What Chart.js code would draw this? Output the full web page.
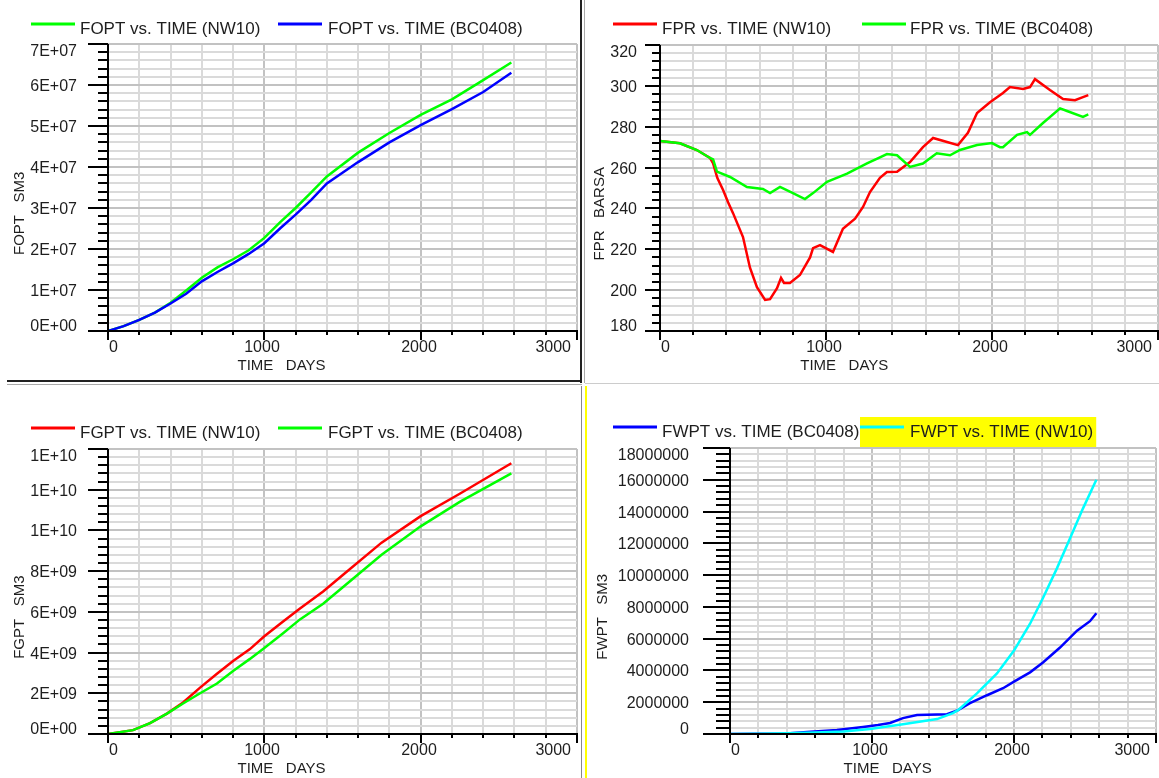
<!DOCTYPE html>
<html>
<head>
<meta charset="utf-8">
<script src="https://cdn.jsdelivr.net/npm/chart.js@4.4.0/dist/chart.umd.min.js"></script>
<style>
  body { margin: 0; background: #fff; width: 1159px; height: 778px; overflow: hidden; position: relative; }
  canvas { position: absolute; }
  .rule { position: absolute; }
</style>
</head>
<body>
<canvas id="foptCanvas" width="580" height="380" style="left:0;top:0"></canvas>
<canvas id="fprCanvas" width="572" height="380" style="left:587px;top:0"></canvas>
<canvas id="fgptCanvas" width="580" height="392" style="left:0;top:386px"></canvas>
<canvas id="fwptCanvas" width="572" height="392" style="left:587px;top:386px"></canvas>

<div class="rule" style="left:580px;top:0;width:2px;height:383px;background:#222"></div>
<div class="rule" style="left:584px;top:0;width:1px;height:383px;background:#aaa"></div>
<div class="rule" style="left:7px;top:380px;width:575px;height:2px;background:#222"></div>
<div class="rule" style="left:7px;top:384px;width:575px;height:1px;background:#aaa"></div>
<div class="rule" style="left:585px;top:383px;width:574px;height:1px;background:#ccc"></div>
<div class="rule" style="left:581px;top:386px;width:1px;height:392px;background:#888"></div>
<div class="rule" style="left:585px;top:386px;width:2px;height:392px;background:#ffff00"></div>

<script>
// ---- Data: TIME (days) and field totals per case ----
const foptDays = [0, 100, 200, 300, 400, 500, 600, 700, 800, 900, 1000, 1100, 1200, 1300, 1400, 1600, 1800, 2000, 2200, 2400, 2580];
const foptNW10 = [0, 1.2e6, 2.7e6, 4.5e6, 6.9e6, 9.9e6, 1.3e7, 1.55e7, 1.75e7, 1.97e7, 2.27e7, 2.65e7, 3.0e7, 3.38e7, 3.77e7, 4.35e7, 4.83e7, 5.27e7, 5.65e7, 6.12e7, 6.55e7];
const foptBC0408 = [0, 1.2e6, 2.7e6, 4.5e6, 6.7e6, 9.1e6, 1.21e7, 1.44e7, 1.65e7, 1.88e7, 2.14e7, 2.5e7, 2.84e7, 3.2e7, 3.6e7, 4.12e7, 4.6e7, 5.02e7, 5.41e7, 5.83e7, 6.3e7];

const fprNW10Days = [0, 120, 222, 301, 320, 345, 380, 410, 440, 500, 542, 584, 633, 663, 705, 729, 747, 783, 843, 904, 922, 964, 1042, 1102, 1175, 1223, 1265, 1325, 1367, 1428, 1506, 1584, 1645, 1729, 1795, 1855, 1910, 1988, 2066, 2108, 2187, 2229, 2259, 2349, 2428, 2500, 2548, 2580];
const fprNW10 = [273, 271.9, 268.6, 264.7, 262, 255, 249, 243, 237.7, 226, 211, 201.5, 195.2, 195.6, 201, 206, 203.5, 203.5, 207.4, 216, 220.6, 222, 218.7, 230, 235, 240.7, 248, 255, 257.8, 258, 262.7, 270, 274.5, 272.5, 271, 277, 286.7, 292, 296.5, 299.4, 298.5, 299.4, 303.3, 298, 293.6, 293, 294.5, 295.5];
const fprBC0408Days = [0, 120, 222, 301, 320, 343, 422, 524, 620, 663, 723, 801, 873, 922, 1006, 1127, 1247, 1325, 1367, 1428, 1506, 1584, 1667, 1747, 1807, 1910, 2000, 2048, 2066, 2151, 2211, 2229, 2307, 2410, 2452, 2548, 2580];
const fprBC0408 = [273, 271.9, 268.6, 264.7, 264, 258, 255.4, 250.5, 249.5, 247.5, 250.5, 247.5, 244.6, 247.5, 253, 257, 262, 265, 266.6, 266, 260.3, 262, 267, 266, 268.6, 271, 272, 270, 270, 276, 277.4, 276, 281.8, 289, 287.7, 284.8, 286];

const fgptDays = [0, 160, 269, 377, 480, 589, 697, 800, 908, 1000, 1120, 1228, 1376, 1500, 1750, 2000, 2250, 2580];
const fgptNW10 = [0, 0.19e9, 0.53e9, 1.0e9, 1.55e9, 2.28e9, 2.96e9, 3.59e9, 4.17e9, 4.8e9, 5.53e9, 6.17e9, 7.0e9, 7.8e9, 9.4e9, 10.7e9, 11.8e9, 13.3e9];
const fgptBC0408 = [0, 0.19e9, 0.53e9, 1.0e9, 1.5e9, 2.0e9, 2.48e9, 3.1e9, 3.69e9, 4.22e9, 4.95e9, 5.63e9, 6.4e9, 7.2e9, 8.8e9, 10.2e9, 11.4e9, 12.8e9];

const fwptBC0408Days = [0, 400, 542, 753, 937, 1042, 1127, 1218, 1317, 1528, 1606, 1690, 1810, 1923, 2000, 2113, 2204, 2324, 2444, 2535, 2580];
const fwptBC0408 = [0, 0.03e6, 0.12e6, 0.25e6, 0.44e6, 0.56e6, 0.69e6, 1.0e6, 1.19e6, 1.25e6, 1.5e6, 1.94e6, 2.44e6, 2.88e6, 3.3e6, 3.88e6, 4.5e6, 5.44e6, 6.5e6, 7.1e6, 7.6e6];
const fwptNW10Days = [0, 200, 400, 600, 800, 986, 1218, 1458, 1570, 1606, 1739, 1880, 2000, 2113, 2204, 2303, 2394, 2486, 2580];
const fwptNW10 = [0, 0.02e6, 0.05e6, 0.1e6, 0.16e6, 0.31e6, 0.62e6, 0.94e6, 1.31e6, 1.5e6, 2.56e6, 3.81e6, 5.25e6, 6.94e6, 8.56e6, 10.44e6, 12.3e6, 14.2e6, 16.0e6];

const GREEN = '#00ff00', BLUE = '#0000ff', RED = '#ff0000', CYAN = '#00ffff';
const FONT = '"Liberation Sans", Arial, sans-serif';
const INK = '#1e1e1e';
const GRID_MINOR = '#dadada';
const GRID_MAJOR = '#c2c2c2';

const pairs = (xs, ys) => xs.map((x, i) => ({ x, y: ys[i] }));
const onStep = (v, step) => Math.abs(Math.round(v / step) * step - v) < step * 1e-6;

function sciLabel(v) {
  if (v === 0) return '0E+00';
  const [m, e] = v.toExponential(0).split('e');
  const n = parseInt(e, 10);
  return m.toUpperCase() + 'E' + (n < 0 ? '-' : '+') + String(Math.abs(n)).padStart(2, '0');
}
const plainLabel = v => String(Math.round(v));

// axes, ticks, labels and legend in the simulator's plot style
const summaryPlot = {
  id: 'summaryPlot',
  afterDraw(chart, args, o) {
    const ctx = chart.ctx;
    const xs = chart.scales.x, ys = chart.scales.y;
    const { left, right, top, bottom } = chart.chartArea;
    ctx.save();
    ctx.strokeStyle = '#000';
    ctx.lineWidth = 2;

    // axis lines
    ctx.beginPath();
    ctx.moveTo(left, top); ctx.lineTo(left, bottom + 1);
    ctx.moveTo(left - 1, bottom); ctx.lineTo(right + 1, bottom);
    ctx.stroke();

    // y ticks + labels
    ctx.font = '16px ' + FONT;
    ctx.fillStyle = INK;
    ctx.textAlign = 'right';
    ctx.textBaseline = 'middle';
    ys.ticks.forEach(t => {
      const y = Math.round(ys.getPixelForValue(t.value));
      const major = onStep(t.value, o.yMajor);
      const len = major ? o.yTick[0] : o.yTick[1];
      ctx.beginPath(); ctx.moveTo(left - len, y); ctx.lineTo(left, y); ctx.stroke();
      if (major) {
        const ly = Math.min(Math.max(y + 2, top + 8), bottom - 4);
        ctx.fillText(o.yFormat(t.value), left - o.yLabelGap, ly);
      }
    });

    // x ticks + labels
    const xt = xs.ticks;
    xt.forEach((t, i) => {
      const x = Math.round(xs.getPixelForValue(t.value));
      const major = onStep(t.value, 1000);
      const len = major ? o.xTick[0] : o.xTick[1];
      ctx.beginPath(); ctx.moveTo(x, bottom); ctx.lineTo(x, bottom + len); ctx.stroke();
      if (major) {
        let lx = x - 2;
        ctx.textAlign = 'center';
        if (i === 0) { ctx.textAlign = 'left'; lx = x + 1; }
        if (i === xt.length - 1) { ctx.textAlign = 'right'; lx = x - 6; }
        ctx.fillText(String(t.value), lx, bottom + 17);
      }
    });

    // axis titles
    ctx.font = '15px ' + FONT;
    ctx.textAlign = 'center';
    ctx.fillText('TIME   DAYS', left + 0.37 * (right - left), bottom + 35);
    ctx.save();
    ctx.translate(o.yTitleX, bottom - 0.41 * (bottom - top));
    ctx.rotate(-Math.PI / 2);
    ctx.fillText(o.yTitle, 0, 0);
    ctx.restore();

    // legend
    ctx.font = '17px ' + FONT;
    ctx.textAlign = 'left';
    chart.data.datasets.forEach((ds, i) => {
      const item = o.legend[i];
      const w = ctx.measureText(ds.label).width;
      if (item.highlight) {
        ctx.fillStyle = '#ffff00';
        ctx.fillRect(item.x, o.legendY - 15, item.textX - item.x + w + 3, 30);
      }
      ctx.strokeStyle = ds.borderColor;
      ctx.lineWidth = 3;
      ctx.beginPath(); ctx.moveTo(item.x, o.legendY - 5); ctx.lineTo(item.x + 44, o.legendY - 5); ctx.stroke();
      ctx.fillStyle = INK;
      ctx.fillText(ds.label, item.textX, o.legendY);
    });
    ctx.restore();
  }
};

function buildPlot(id, box, series, y, extra) {
  const canvas = document.getElementById(id);
  const W = canvas.width, H = canvas.height;
  const gridColor = major => c => onStep(c.tick.value, major) ? GRID_MAJOR : GRID_MINOR;
  return new Chart(canvas, {
    type: 'line',
    data: {
      datasets: series.map((s, i) => ({
        label: s.label,
        data: pairs(s.days, s.values),
        borderColor: s.color,
        borderWidth: 2.5,
        pointRadius: 0,
        tension: 0,
        order: series.length - i
      }))
    },
    options: {
      responsive: false,
      animation: false,
      devicePixelRatio: 1,
      layout: { padding: { left: 0, top: box.top, right: W - box.right, bottom: 0 } },
      scales: {
        x: {
          type: 'linear', min: 0, max: 3000,
          ticks: { display: false, stepSize: 200, maxTicksLimit: 100 },
          grid: { color: gridColor(1000), lineWidth: 2, drawTicks: false },
          border: { display: false },
          afterFit: s => { s.height = H - box.bottom; }
        },
        y: {
          type: 'linear', min: y.min, max: y.max,
          ticks: { display: false, stepSize: y.minor, maxTicksLimit: 100 },
          grid: { color: gridColor(y.major), lineWidth: 2, drawTicks: false },
          border: { display: false },
          afterFit: s => { s.width = box.left; }
        }
      },
      plugins: {
        legend: { display: false },
        tooltip: { enabled: false },
        summaryPlot: Object.assign({ yMajor: y.major, yFormat: y.format }, extra)
      }
    },
    plugins: [summaryPlot]
  });
}

buildPlot('foptCanvas', { left: 108, right: 577, top: 44, bottom: 331 }, [
  { label: 'FOPT vs. TIME (NW10)', days: foptDays, values: foptNW10, color: GREEN },
  { label: 'FOPT vs. TIME (BC0408)', days: foptDays, values: foptBC0408, color: BLUE }
], { min: 0, max: 7e7, major: 1e7, minor: 2e6, format: sciLabel }, {
  yTick: [20, 10], xTick: [9, 4], yLabelGap: 31, yTitle: 'FOPT   SM3', yTitleX: 20,
  legendY: 29, legend: [{ x: 31, textX: 80 }, { x: 278, textX: 328 }]
});

buildPlot('fprCanvas', { left: 73, right: 571, top: 45, bottom: 331 }, [
  { label: 'FPR vs. TIME (NW10)', days: fprNW10Days, values: fprNW10, color: RED },
  { label: 'FPR vs. TIME (BC0408)', days: fprBC0408Days, values: fprBC0408, color: GREEN }
], { min: 180, max: 320, major: 20, minor: 4, format: plainLabel }, {
  yTick: [15, 8], xTick: [9, 4], yLabelGap: 23, yTitle: 'FPR   BARSA', yTitleX: 13,
  legendY: 29, legend: [{ x: 26, textX: 75 }, { x: 275, textX: 323 }]
});

buildPlot('fgptCanvas', { left: 108, right: 577, top: 63, bottom: 348 }, [
  { label: 'FGPT vs. TIME (NW10)', days: fgptDays, values: fgptNW10, color: RED },
  { label: 'FGPT vs. TIME (BC0408)', days: fgptDays, values: fgptBC0408, color: GREEN }
], { min: 0, max: 1.4e10, major: 2e9, minor: 4e8, format: sciLabel }, {
  yTick: [20, 10], xTick: [9, 4], yLabelGap: 31, yTitle: 'FGPT   SM3', yTitleX: 20,
  legendY: 47, legend: [{ x: 31, textX: 80 }, { x: 278, textX: 328 }]
});

buildPlot('fwptCanvas', { left: 143, right: 569, top: 62, bottom: 348 }, [
  { label: 'FWPT vs. TIME (BC0408)', days: fwptBC0408Days, values: fwptBC0408, color: BLUE },
  { label: 'FWPT vs. TIME (NW10)', days: fwptNW10Days, values: fwptNW10, color: CYAN }
], { min: 0, max: 1.8e7, major: 2e6, minor: 4e5, format: plainLabel }, {
  yTick: [27, 14], xTick: [9, 4], yLabelGap: 41, yTitle: 'FWPT   SM3', yTitleX: 16,
  legendY: 46, legend: [{ x: 26, textX: 75 }, { x: 273, textX: 323, highlight: true }]
});
</script>
</body>
</html>
